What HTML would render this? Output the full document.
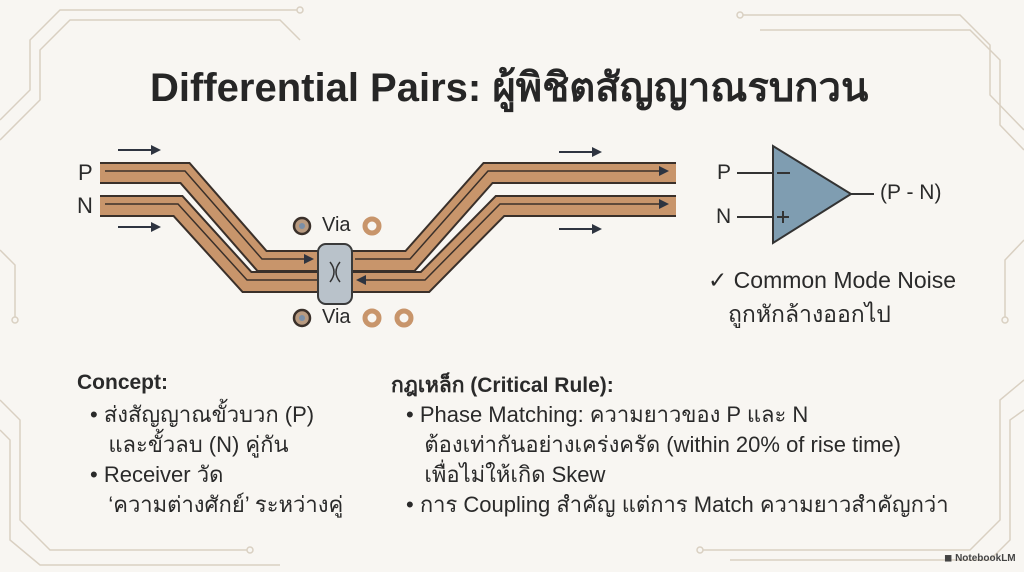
<!DOCTYPE html>
<html><head><meta charset="utf-8"><style>
body{margin:0;width:1024px;height:572px;overflow:hidden;background:#f8f6f2;font-family:"Liberation Sans","DejaVu Sans",sans-serif;color:#2a2a2a}
.t{position:absolute;white-space:nowrap}
</style></head><body>
<svg width="1024" height="572" style="position:absolute;left:0;top:0">
<g fill="none" stroke="#d9d0c2" stroke-width="1.5">
<path d="M0 120 L30 90 L30 40 L60 10 L300 10"/><path d="M0 140 L40 100 L40 50 L70 20 L280 20 L300 40"/>
<path d="M1024 130 L990 95 L990 45 L960 15 L740 15"/><path d="M1024 150 L1000 125 L1000 60 L970 30 L760 30"/>
<path d="M0 400 L20 420 L20 520 L50 550 L250 550"/><path d="M0 430 L10 440 L10 540 L40 565 L280 565"/>
<path d="M1024 380 L1000 400 L1000 520 L970 550 L700 550"/><path d="M1024 410 L1010 420 L1010 540 L990 560 L730 560"/>
<path d="M1024 240 L1005 260 L1005 320"/><path d="M0 250 L15 265 L15 320"/>
</g>
<g fill="#f8f6f2" stroke="#d9d0c2" stroke-width="1.5"><circle cx="300" cy="10" r="3"/><circle cx="740" cy="15" r="3"/><circle cx="250" cy="550" r="3"/><circle cx="700" cy="550" r="3"/><circle cx="15" cy="320" r="3"/><circle cx="1005" cy="320" r="3"/></g>
<g fill="none" stroke-linejoin="miter">
<g stroke="#3a302a" stroke-width="22">
<polyline points="100,173 185,173 262,261 320,261"/><polyline points="100,206 178,206 247,282 320,282"/>
<polyline points="352,261 410,261 488,173 676,173"/><polyline points="352,282 425,282 500,206 676,206"/>
</g>
<g stroke="#c8956b" stroke-width="18">
<polyline points="100,173 185,173 262,261 320,261"/><polyline points="100,206 178,206 247,282 320,282"/>
<polyline points="352,261 410,261 488,173 676,173"/><polyline points="352,282 425,282 500,206 676,206"/>
</g>
<g stroke="#3a302a" stroke-width="1.5">
<polyline points="105,171 185,171 262,259 310,259"/><polyline points="105,204 178,204 247,280 318,280"/>
<polyline points="355,259 410,259 488,171 662,171"/><polyline points="362,280 425,280 500,204 662,204"/>
</g>
</g>
<g fill="#2e3440"><path d="M669 171 l-10 -5 v10z"/><path d="M669 204 l-10 -5 v10z"/><path d="M314 259 l-10 -5 v10z"/><path d="M356 280 l10 -5 v10z"/></g>
<rect x="318" y="244" width="34" height="60" rx="8" fill="#b9c2ca" stroke="#3a3a3a" stroke-width="2"/>
<path d="M330 262 q8 10 0 20 M340 262 q-8 10 0 20" stroke="#333" fill="none" stroke-width="1.5"/>
<g stroke="#2e3440" stroke-width="2"><line x1="118" y1="150" x2="152" y2="150"/><line x1="118" y1="227" x2="152" y2="227"/><line x1="559" y1="152" x2="593" y2="152"/><line x1="559" y1="229" x2="593" y2="229"/></g>
<g fill="#2e3440"><path d="M161 150 l-10 -5 v10z"/><path d="M161 227 l-10 -5 v10z"/><path d="M602 152 l-10 -5 v10z"/><path d="M602 229 l-10 -5 v10z"/></g>
<g><circle cx="302" cy="226" r="8" fill="#b89a80" stroke="#3a302a" stroke-width="2.5"/><circle cx="302" cy="226" r="3" fill="#7a8fa8"/>
<circle cx="302" cy="318" r="8" fill="#b89a80" stroke="#3a302a" stroke-width="2.5"/><circle cx="302" cy="318" r="3" fill="#7a8fa8"/>
<circle cx="372" cy="226" r="7" fill="none" stroke="#c8956b" stroke-width="5"/><circle cx="372" cy="318" r="7" fill="none" stroke="#c8956b" stroke-width="5"/><circle cx="404" cy="318" r="7" fill="none" stroke="#c8956b" stroke-width="5"/></g>
<polygon points="773,146 773,243 851,194" fill="#7f9db1" stroke="#333" stroke-width="2"/>
<g stroke="#333" stroke-width="2"><line x1="737" y1="173" x2="773" y2="173"/><line x1="737" y1="217" x2="773" y2="217"/><line x1="851" y1="194" x2="874" y2="194"/><line x1="777" y1="173" x2="790" y2="173"/><line x1="777" y1="217" x2="789" y2="217"/><line x1="783" y1="211" x2="783" y2="223"/></g>
</svg>
<div class="t" style="left:150px;top:55px;font-size:40px;font-weight:bold;color:#262626">Differential Pairs: ผู้พิชิตสัญญาณรบกวน</div>
<div class="t" style="left:78px;top:160px;font-size:22px">P</div>
<div class="t" style="left:77px;top:193px;font-size:22px">N</div>
<div class="t" style="left:322px;top:214px;font-size:20px">Via</div>
<div class="t" style="left:322px;top:306px;font-size:20px">Via</div>
<div class="t" style="left:717px;top:161px;font-size:21px">P</div>
<div class="t" style="left:716px;top:205px;font-size:21px">N</div>
<div class="t" style="left:880px;top:181px;font-size:21px">(P - N)</div>
<div class="t" style="left:708px;top:267px;font-size:23px">✓ Common Mode Noise</div>
<div class="t" style="left:728px;top:297px;font-size:23px">ถูกหักล้างออกไป</div>
<div class="t" style="left:77px;top:371px;font-size:21px;font-weight:bold">Concept:</div>
<div class="t" style="left:391px;top:369px;font-size:21px;font-weight:bold">กฎเหล็ก (Critical Rule):</div>
<div class="t" style="left:90px;top:400px;font-size:22px;line-height:30px">• ส่งสัญญาณขั้วบวก (P)<br>&nbsp;&nbsp; และขั้วลบ (N) คู่กัน<br>• Receiver วัด<br>&nbsp;&nbsp; ‘ความต่างศักย์’ ระหว่างคู่</div>
<div class="t" style="left:406px;top:400px;font-size:22px;line-height:30px">• Phase Matching: ความยาวของ P และ N<br>&nbsp;&nbsp; ต้องเท่ากันอย่างเคร่งครัด (within 20% of rise time)<br>&nbsp;&nbsp; เพื่อไม่ให้เกิด Skew<br>• การ Coupling สำคัญ แต่การ Match ความยาวสำคัญกว่า</div>
<div class="t" style="left:944px;top:553px;font-size:10px;font-weight:bold;color:#444">◼ NotebookLM</div>
</body></html>
